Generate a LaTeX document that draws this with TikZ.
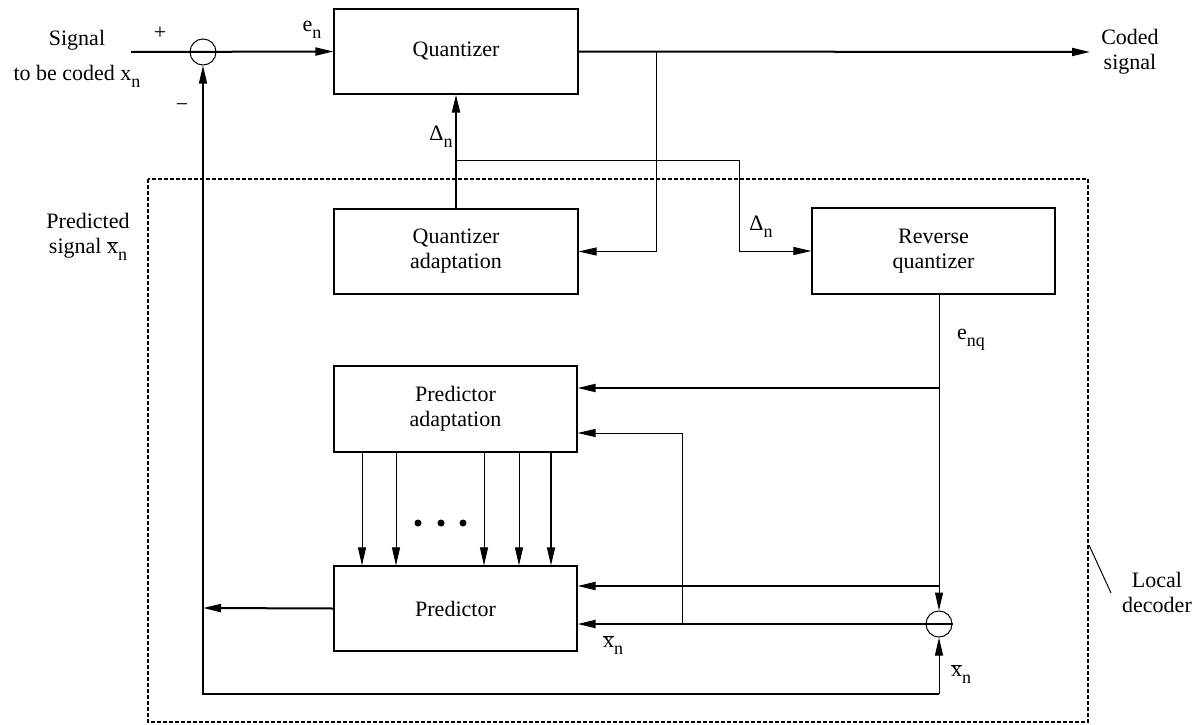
\documentclass[tikz,border=0pt]{standalone}
\usepackage{fontspec}
\setmainfont{Liberation Serif}
\usetikzlibrary{arrows.meta}
\newcommand\myxbar{$\overline{\mbox{x}}$}
\newcommand\mysub[1]{\raisebox{-0.32em}{\fontsize{18}{18}\selectfont #1}}
\begin{document}
\begin{tikzpicture}[x=1pt,y=-1pt,
  font=\fontsize{22}{25}\selectfont,
  >={Triangle[length=18pt,width=8pt]},
  blk/.style={draw,line width=1.1pt,inner sep=0pt,align=center,minimum width=244pt,minimum height=85pt},
  sig/.style={line width=2pt},
  thn/.style={line width=1pt},
  med/.style={line width=1.4pt},
  junc/.style={draw,circle,line width=1pt,minimum size=26pt,inner sep=0pt},
  lbl/.style={inner sep=0pt,align=center}]
\useasboundingbox (0,0) rectangle (1199,725);
% dashed local decoder frame
\draw[line width=1.2pt,dash pattern=on 4pt off 2pt] (148,179) rectangle (1088,722);
% blocks
\node[blk] (Q) at (456,51.5) {Quantizer};
\node[blk] (QA) at (456,251.5) {Quantizer\\adaptation};
\node[blk,minimum width=243pt,minimum height=86pt] (RQ) at (933.5,251) {Reverse\\quantizer};
\node[blk,minimum width=243pt,minimum height=86pt] (PA) at (455.5,409) {Predictor\\adaptation};
\node[blk,minimum width=243pt] (P) at (455.5,608.5) {Predictor};
% junctions
\node[junc] (S) at (203,52) {};
\node[junc] (D) at (939,624) {};
% coordinates
\coordinate (in) at (131,52);
\coordinate (out) at (1090,52);
\coordinate (b1) at (656,52);
\coordinate (t1) at (456,160);
\coordinate (t2) at (739,160);
\coordinate (e0) at (939,294);
\coordinate (j1) at (939,388);
\coordinate (j2) at (939,586);
\coordinate (k1) at (682,624);
\coordinate (k2) at (682,433);
\coordinate (f1) at (939,694);
\coordinate (f2) at (203,694);
\coordinate (pl) at (203,608);
% forward path
\draw[sig,->] (in) -- (Q.west);
\draw[sig,->] (Q.east) -- (out);
\draw[thn,->] (b1) |- (QA.east);
\draw[sig,->] (QA.north) -- (Q.south);
\draw[thn,->] (t1) -- (t2) |- (RQ.west);
% local decoder
\draw[thn,->] (e0) -- (D.north);
\draw[sig,->] (j1) -- (PA.east |- j1);
\draw[sig,->] (j2) -- (P.east |- j2);
\draw[sig,->] (D.east) -- (P.east |- D.east);
\draw[thn,->] (k1) -- (k2) -- (PA.east |- k2);
\draw[thn,->] (f1) -- (D.south);
\draw[med,->] (f1) -- (f2) -- (S.south);
\draw[sig,->] (P.west) -- (pl);
% coefficient arrows
\foreach \x [count=\i] in {362,396,484,519} {
  \coordinate (v\i) at (\x,452);
  \draw[thn,->] (v\i) -- (v\i |- P.north);
}
\coordinate (v5) at (551,452);
\draw[med,->] (v5) -- (v5 |- P.north);
\fill (418,523) circle (3.5) (441,523) circle (3.5) (463,523) circle (3.5);
% labels
\node[lbl] (l1) at (77,40) {Signal};
\node[lbl] (l2) at (77,76) {to be coded x\mysub{n}};
\node[lbl] (l3) at (160,33) {+};
\node[lbl] (l4) at (182,108) {−};
\node[lbl] (l5) at (312,30) {e\mysub{n}};
\node[lbl] (l6) at (1130,52) {\fontsize{22}{27}\selectfont Coded\\signal};
\node[lbl] (l7) at (441,137) {Δ\mysub{n}};
\node[lbl] (l8) at (761,227) {Δ\mysub{n}};
\node[lbl] (l9) at (971,340) {e\mysub{nq}};
\node[lbl] (l10) at (613,645) {\myxbar\mysub{n}};
\node[lbl] (l11) at (961,674) {\myxbar\mysub{n}};
\node[lbl] (l12) at (88,237) {Predicted\\signal \myxbar\mysub{n}};
\node[lbl] (l13) at (1157,592) {\fontsize{22}{24}\selectfont Local\\decoder};
\coordinate (ld1) at (1089,545);
\coordinate (ld2) at (1111,593);
\draw[thn] (ld1) -- (ld2);
\end{tikzpicture}
\end{document}
